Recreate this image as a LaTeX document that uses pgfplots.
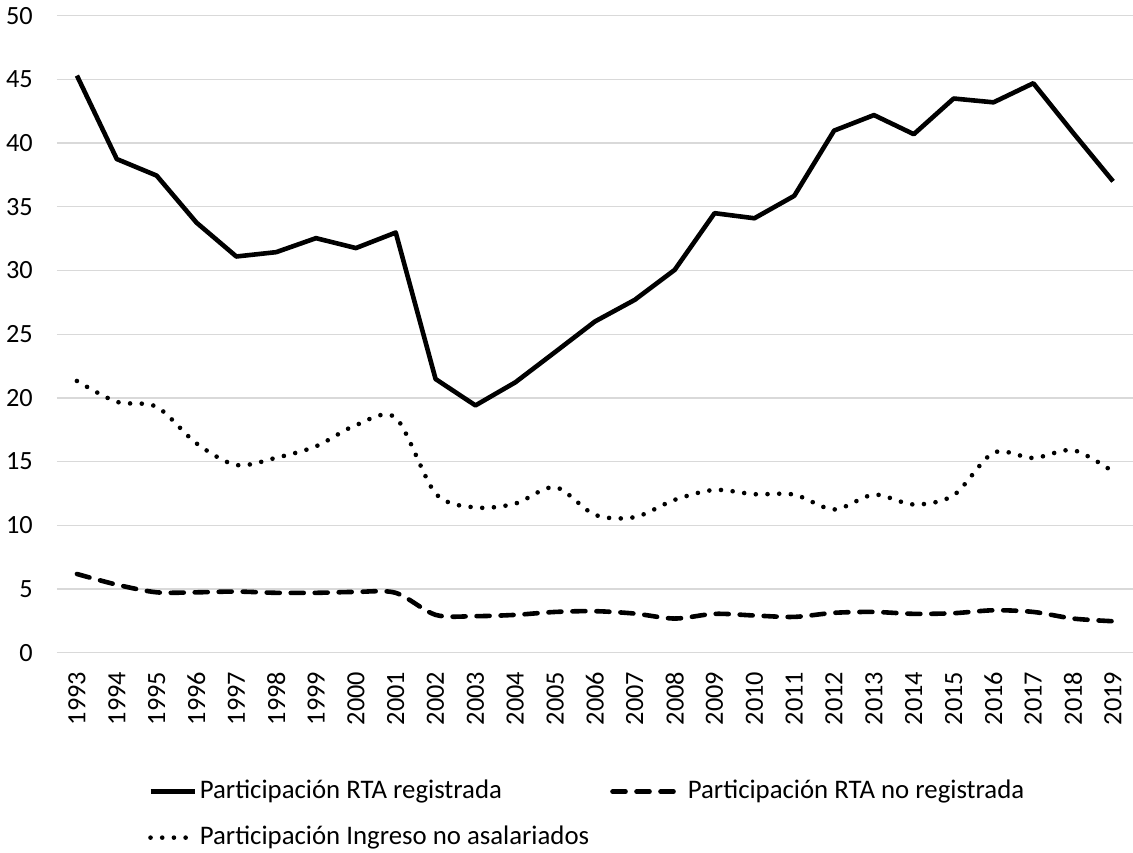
\documentclass[border=0pt]{standalone}
\usepackage{pgfplots}
\pgfplotsset{compat=1.18}
\usepackage{fontspec}
\setmainfont{Carlito}
\pgfplotsset{longleg/.style={legend image code/.code={\draw[##1] (0pt,0pt) -- (66pt,0pt); \path (70pt,0pt);}}}
\begin{document}
\fontsize{26.5pt}{31pt}\selectfont
\begin{tikzpicture}
\path[use as bounding box] (-57pt,-199.3pt) rectangle (1076pt,652.7pt);
\begin{axis}[
  at={(0pt,0pt)}, anchor=south west,
  scale only axis, width=1076pt, height=637pt,
  xmin=1992.5, xmax=2019.5, ymin=0, ymax=50,
  ytick={0,5,...,50}, xtick={1993,...,2019},
  axis line style={draw=none},
  major tick length=0pt,
  ymajorgrids, grid style={draw=black!15, line width=1.3pt},
  /pgf/number format/assume math mode=true,
  /pgf/number format/1000 sep={},
  tick label style={font=\fontsize{26.3pt}{31pt}\selectfont},
  yticklabel style={anchor=east, inner sep=0pt, xshift=-24pt},
  xticklabel style={yshift=-19pt, rotate=90, anchor=east, inner sep=0pt},
  legend columns=2, legend cell align=left,
  legend style={draw=none, fill=none, inner sep=0pt, at={(0.0846,-0.2542)}, anchor=west,
    font=\fontsize{26.8pt}{31pt}\selectfont,
    nodes={inner xsep=3pt, inner ysep=0pt, text height=19pt, text depth=6pt},
    row sep=21pt, /tikz/column 2/.style={column sep=18pt}},
  legend image code/.code={\draw[#1] (0pt,0pt) -- (44pt,0pt);},
]
\addplot[black, line width=4.6pt, line join=round] coordinates {
(1993,45.3) (1994,38.75) (1995,37.45) (1996,33.76) (1997,31.1) (1998,31.44) (1999,32.54) (2000,31.76) (2001,32.98)
(2002,21.48) (2003,19.41) (2004,21.22) (2005,23.6) (2006,26.0) (2007,27.7) (2008,30.05) (2009,34.5) (2010,34.1)
(2011,35.86) (2012,40.98) (2013,42.2) (2014,40.7) (2015,43.5) (2016,43.2) (2017,44.7) (2018,40.8) (2019,37.0)};
\addlegendentry{Participación RTA registrada}
\addplot[black, line width=4.6pt, line cap=round, dash pattern=on 13pt off 11pt, smooth, longleg] coordinates {
(1993,6.18) (1994,5.34) (1995,4.74) (1996,4.74) (1997,4.8) (1998,4.7) (1999,4.7) (2000,4.77) (2001,4.7)
(2002,2.97) (2003,2.87) (2004,2.97) (2005,3.2) (2006,3.26) (2007,3.07) (2008,2.68) (2009,3.05) (2010,2.92)
(2011,2.81) (2012,3.13) (2013,3.2) (2014,3.05) (2015,3.1) (2016,3.33) (2017,3.2) (2018,2.68) (2019,2.47)};
\addlegendentry{Participación RTA no registrada}
\addplot[black, line width=4.6pt, line cap=round, dash pattern=on 0pt off 11.7pt, smooth] coordinates {
(1993,21.33) (1994,19.69) (1995,19.3) (1996,16.43) (1997,14.73) (1998,15.3) (1999,16.2) (2000,17.86) (2001,18.44)
(2002,12.5) (2003,11.4) (2004,11.7) (2005,13.0) (2006,10.82) (2007,10.64) (2008,12.0) (2009,12.78) (2010,12.44)
(2011,12.41) (2012,11.24) (2013,12.41) (2014,11.63) (2015,12.36) (2016,15.7) (2017,15.28) (2018,15.9) (2019,14.21)};
\addlegendentry{Participación Ingreso no asalariados}
\end{axis}
\end{tikzpicture}
\end{document}
